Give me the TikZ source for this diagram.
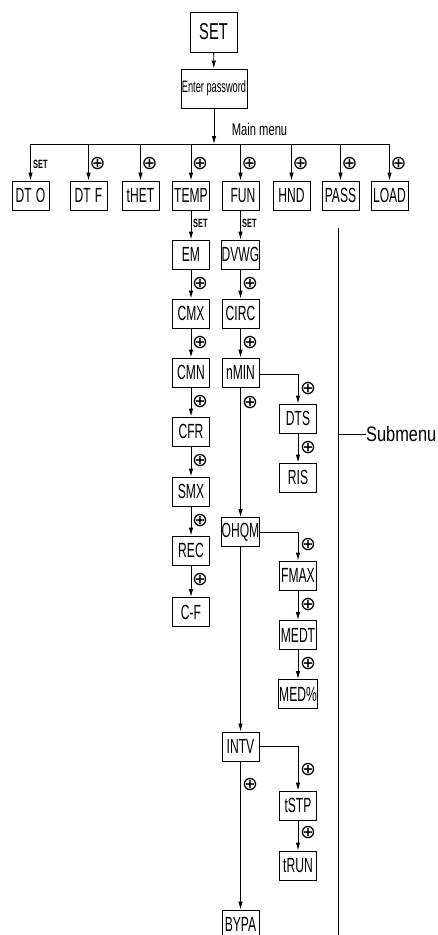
\documentclass[tikz,border=0pt]{standalone}
\usepackage{fontspec}
\setmainfont{Liberation Sans}[FakeStretch=0.59]
\newfontfamily\setfont{Liberation Sans}[FakeStretch=0.64]
\newfontfamily\epfont{Liberation Sans}[FakeStretch=0.56]
\newfontfamily\subfont{Liberation Sans}[FakeStretch=0.78]
\newfontfamily\mmfont{Liberation Sans}[FakeStretch=0.66]
\newfontfamily\setlblfont{Liberation Sans}[FakeStretch=0.62]
\newfontfamily\symfont{DejaVu Sans}
\usetikzlibrary{arrows.meta}
\begin{document}
\begin{tikzpicture}[x=1pt,y=-1pt,
  box/.style={draw, line width=0.9pt, minimum width=37pt, minimum height=29pt, inner xsep=0.5pt, inner ysep=0pt, font=\fontsize{20.5}{20.5}\selectfont},
  arr/.style={-{Latex[length=8pt,width=4.5pt]}, line width=0.9pt},
  ln/.style={line width=0.9pt},
  plusmark/.style={font=\symfont\fontsize{19}{19}\selectfont, inner sep=0pt},
  setl/.style={font=\setlblfont\bfseries\fontsize{12}{12}\selectfont, inner sep=0pt, anchor=west}]
\useasboundingbox (0,0) rectangle (438,935);
\clip (0,0) rectangle (438,935);
% top
\node[box, minimum width=47pt, minimum height=40pt, font=\setfont\fontsize{23}{23}\selectfont] (SET) at (213.5,32) {SET};
\node[box, minimum width=66pt, minimum height=39pt, font=\epfont\fontsize{16.5}{16.5}\selectfont] (EP) at (214,88.5) {Enter password};
\coordinate (bar) at (214,144);
\draw[arr] (SET) -- (EP);
\draw[arr] (EP) -- (bar);
\node[font=\mmfont\fontsize{17}{17}\selectfont, inner sep=0pt] (mm) at (259.5,129) {Main menu};
% main menu boxes
\node[box] (DTO) at (30.5,195.5) {DT\hspace{4pt}O};
\node[box] (DTF) at (88.5,195.5) {DT\hspace{4pt}F};
\node[box] (tHET) at (140.5,195.5) {tHET};
\node[box] (TEMP) at (191,195.5) {TEMP};
\node[box] (FUN) at (240.5,195.5) {\hspace{5pt}FUN};
\node[box] (HND) at (291.5,195.5) {HND};
\node[box] (PASS) at (340.5,195.5) {PASS};
\node[box] (LOAD) at (389.5,195.5) {LOAD};
\draw[ln] (DTO.north |- bar) -- (LOAD.north |- bar);
\foreach \n in {DTO,DTF,tHET,TEMP,FUN,HND,PASS,LOAD}{\draw[arr] (\n.north |- bar) -- (\n.north);}
\node[setl] (s1) at (33,164) {SET};
\node[plusmark] (p2) at (97.5,164) {⊕};
\node[plusmark] (p3) at (149.5,164) {⊕};
\node[plusmark] (p4) at (200,164) {⊕};
\node[plusmark] (p5) at (249.5,164) {⊕};
\node[plusmark] (p6) at (300.5,164) {⊕};
\node[plusmark] (p7) at (349.5,164) {⊕};
\node[plusmark] (p8) at (398.5,164) {⊕};
% TEMP column
\node[box] (EM) at (191,254.5) {EM};
\node[box] (CMX) at (191,313.5) {CMX};
\node[box] (CMN) at (191,372.5) {CMN};
\node[box] (CFR) at (191,431.5) {CFR};
\node[box] (SMX) at (191,491.5) {SMX};
\node[box] (REC) at (191,550.5) {REC};
\node[box] (CF) at (191,612) {C-F};
\draw[arr] (TEMP) -- (EM);
\draw[arr] (EM) -- (CMX);
\draw[arr] (CMX) -- (CMN);
\draw[arr] (CMN) -- (CFR);
\draw[arr] (CFR) -- (SMX);
\draw[arr] (SMX) -- (REC);
\draw[arr] (REC) -- (CF);
\node[setl] (s2) at (193,223) {SET};
\node[plusmark] (t1) at (200,284) {⊕};
\node[plusmark] (t2) at (200,343) {⊕};
\node[plusmark] (t3) at (200,402) {⊕};
\node[plusmark] (t4) at (200,461) {⊕};
\node[plusmark] (t5) at (200,521) {⊕};
\node[plusmark] (t6) at (200,580) {⊕};
% FUN column
\node[box] (DVWG) at (240.5,254.5) {DVWG};
\node[box] (CIRC) at (240.5,313.5) {CIRC};
\node[box] (nMIN) at (240.5,372.5) {nMIN};
\node[box] (OHQM) at (240.5,532) {OHQM};
\node[box] (INTV) at (240.5,746.5) {INTV};
\node[box] (BYPA) at (240.5,924.5) {BYPA};
\draw[arr] (FUN) -- (DVWG);
\draw[arr] (DVWG) -- (CIRC);
\draw[arr] (CIRC) -- (nMIN);
\draw[arr] (nMIN) -- (OHQM);
\draw[arr] (OHQM) -- (INTV);
\draw[arr] (INTV) -- (BYPA);
\node[setl] (s3) at (242,223) {SET};
\node[plusmark] (f1) at (250,284) {⊕};
\node[plusmark] (f2) at (250,343) {⊕};
\node[plusmark] (f3) at (250,403) {⊕};
\node[plusmark] (f4) at (250,785) {⊕};
% right column
\node[box] (DTS) at (298,418.5) {DTS};
\node[box] (RIS) at (298,477.5) {RIS};
\node[box] (FMAX) at (298,575.5) {FMAX};
\node[box] (MEDT) at (298,635) {MEDT};
\node[box] (MEDP) at (298,694) {MED\%};
\node[box] (tSTP) at (298,805.5) {tSTP};
\node[box] (tRUN) at (298,865.5) {tRUN};
\draw[arr] ([yshift=-1.5pt]nMIN.east) -| (DTS.north);
\draw[arr] (DTS) -- (RIS);
\draw[arr] (OHQM.east) -| (FMAX.north);
\draw[arr] (FMAX) -- (MEDT);
\draw[arr] (MEDT) -- (MEDP);
\draw[arr] (INTV.east) -| (tSTP.north);
\draw[arr] (tSTP) -- (tRUN);
\node[plusmark] (r1) at (308,389) {⊕};
\node[plusmark] (r2) at (308,448) {⊕};
\node[plusmark] (r3) at (308,545) {⊕};
\node[plusmark] (r4) at (308,605) {⊕};
\node[plusmark] (r5) at (308,664) {⊕};
\node[plusmark] (r6) at (308,770) {⊕};
\node[plusmark] (r7) at (308,833) {⊕};
% submenu
\coordinate (st) at (338,228);
\coordinate (sb) at (338,940);
\coordinate (tick) at (338,434);
\draw[ln] (st) -- (sb);
\node[font=\subfont\fontsize{21}{21}\selectfont, inner sep=0pt, anchor=west] (subm) at (366,434) {Submenu};
\draw[ln] (tick) -- (subm.west);
\end{tikzpicture}
\end{document}
